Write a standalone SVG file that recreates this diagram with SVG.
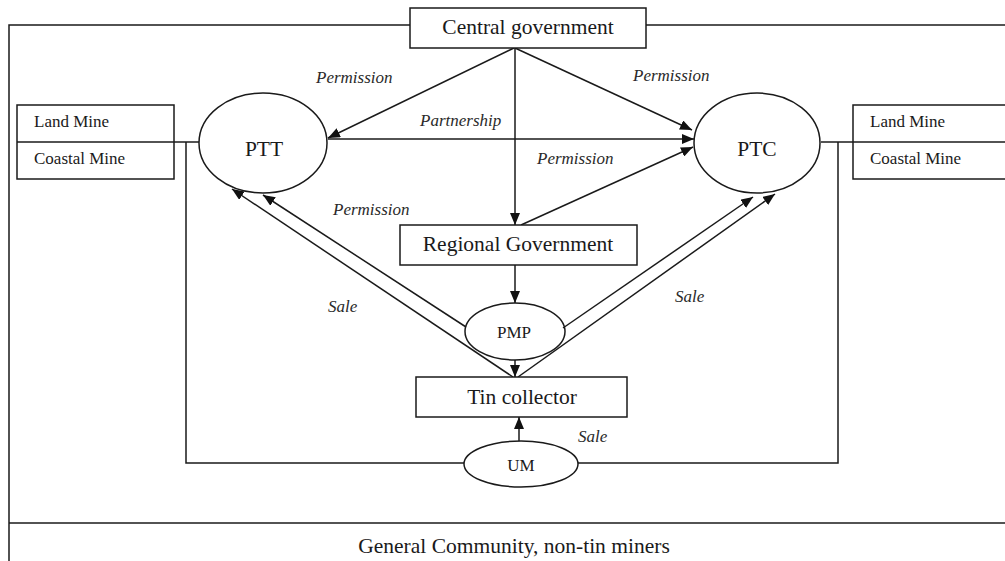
<svg xmlns="http://www.w3.org/2000/svg" width="1005" height="561" viewBox="0 0 1005 561">
<style>
  .ln { fill: none; stroke: #1a1a1a; stroke-width: 1.5; }
  .bx { fill: #fff; stroke: #1a1a1a; stroke-width: 1.5; }
  .t { font-family: "Liberation Serif", "Times New Roman", serif; fill: #1a1a1a; }
  .big { font-size: 21.5px; }
  .mid { font-size: 17px; }
  .lab { font-family: "Liberation Serif", "Times New Roman", serif; font-style: italic; font-size: 17px; fill: #2a2a2a; }
</style>
<defs>
  <marker id="ah" viewBox="0 0 12 10" refX="12" refY="5" markerWidth="12" markerHeight="10" markerUnits="userSpaceOnUse" orient="auto">
    <path d="M0,0 L12,5 L0,10 z" fill="#111"/>
  </marker>
</defs>
<rect width="1005" height="561" fill="#fff"/>

<g id="frame">
  <polyline class="ln" points="410,25 9,25 9,561"/>
  <line class="ln" x1="646" y1="25" x2="1005" y2="25"/>
  <line class="ln" x1="9" y1="523" x2="1005" y2="523"/>
</g>

<g id="connectors">
  <!-- mine box links and bottom loop -->
  <line class="ln" x1="174" y1="142" x2="199" y2="142"/>
  <line class="ln" x1="821" y1="142" x2="853" y2="142"/>
  <polyline class="ln" points="186,142 186,463 464,463"/>
  <polyline class="ln" points="578,463 838,463 838,142"/>
  <!-- central government -->
  <line class="ln" x1="514" y1="48" x2="328" y2="138" marker-end="url(#ah)"/>
  <line class="ln" x1="515" y1="48" x2="692" y2="130" marker-end="url(#ah)"/>
  <line class="ln" x1="515" y1="48" x2="515" y2="225" marker-end="url(#ah)"/>
  <!-- partnership -->
  <line class="ln" x1="328" y1="139" x2="694" y2="139" marker-end="url(#ah)"/>
  <!-- regional -->
  <line class="ln" x1="521" y1="225" x2="693" y2="147" marker-end="url(#ah)"/>
  <line class="ln" x1="515" y1="265" x2="515" y2="303" marker-end="url(#ah)"/>
  <!-- PMP to PTT / PTC -->
  <line class="ln" x1="466" y1="327" x2="263" y2="195" marker-end="url(#ah)"/>
  <line class="ln" x1="563" y1="328" x2="753" y2="197" marker-end="url(#ah)"/>
  <line class="ln" x1="515" y1="360" x2="515" y2="377" marker-end="url(#ah)"/>
  <!-- tin collector to PTT / PTC -->
  <line class="ln" x1="513" y1="377" x2="232" y2="189" marker-end="url(#ah)"/>
  <line class="ln" x1="518" y1="377" x2="775" y2="194" marker-end="url(#ah)"/>
  <!-- UM to tin collector -->
  <line class="ln" x1="519" y1="442" x2="519" y2="417" marker-end="url(#ah)"/>
</g>

<g id="labels">
  <text class="lab" x="316" y="83">Permission</text>
  <text class="lab" x="420" y="126">Partnership</text>
  <text class="lab" x="633" y="81">Permission</text>
  <text class="lab" x="537" y="164">Permission</text>
  <text class="lab" x="333" y="215">Permission</text>
  <text class="lab" x="328" y="312">Sale</text>
  <text class="lab" x="675" y="302">Sale</text>
  <text class="lab" x="578" y="442">Sale</text>
</g>

<g id="central">
  <rect class="bx" x="410" y="8" width="236" height="40"/>
  <text class="t big" x="528" y="34" text-anchor="middle">Central government</text>
</g>

<g id="left-mines">
  <rect class="bx" x="17" y="105" width="157" height="74"/>
  <line class="ln" x1="17" y1="142" x2="174" y2="142"/>
  <text class="t mid" x="34" y="127">Land Mine</text>
  <text class="t mid" x="34" y="164">Coastal Mine</text>
</g>

<g id="right-mines">
  <rect class="bx" x="853" y="105" width="160" height="74"/>
  <line class="ln" x1="853" y1="142" x2="1010" y2="142"/>
  <text class="t mid" x="870" y="127">Land Mine</text>
  <text class="t mid" x="870" y="164">Coastal Mine</text>
</g>

<g id="ptt">
  <ellipse class="bx" cx="263" cy="143" rx="64" ry="50"/>
  <text class="t big" x="264" y="156" text-anchor="middle">PTT</text>
</g>

<g id="ptc">
  <ellipse class="bx" cx="757" cy="143" rx="63" ry="50"/>
  <text class="t big" x="757" y="156" text-anchor="middle">PTC</text>
</g>

<g id="regional">
  <rect class="bx" x="400" y="225" width="237" height="40"/>
  <text class="t big" x="518" y="251" text-anchor="middle">Regional Government</text>
</g>

<g id="pmp">
  <ellipse class="ln" cx="515" cy="331.5" rx="50" ry="28.5"/>
  <text class="t mid" x="514" y="338" text-anchor="middle">PMP</text>
</g>

<g id="tin-collector">
  <rect class="bx" x="416" y="377" width="211" height="40"/>
  <text class="t big" x="522" y="404" text-anchor="middle">Tin collector</text>
</g>

<g id="um">
  <ellipse class="bx" cx="521" cy="464" rx="57" ry="23"/>
  <text class="t mid" x="521" y="471" text-anchor="middle">UM</text>
</g>

<g id="community">
  <text class="t big" x="514" y="553" text-anchor="middle">General Community, non-tin miners</text>
</g>
</svg>
